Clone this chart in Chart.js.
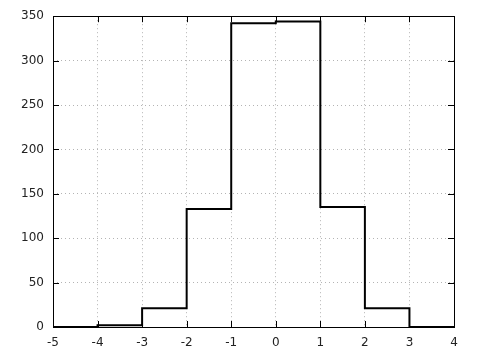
<!DOCTYPE html>
<html>
<head>
  <meta charset="UTF-8" />
  <title>Histogram</title>
  <style>
    html, body { margin: 0; padding: 0; background: #fff; }
    #wrap { width: 480px; height: 360px; }
  </style>
</head>
<body>
<div id="wrap"><canvas id="graph"></canvas></div>

<script src="https://cdn.jsdelivr.net/npm/chart.js"></script>
<script>
// bin edges and counts
const binEdges = [-5, -4, -3, -2, -1, 0, 1, 2, 3, 4];
const counts = [0, 2, 21, 133, 342, 344, 135, 21, 0];
const yTicks = [0, 50, 100, 150, 200, 250, 300, 350];

// step line points: one per left edge, plus the closing right edge
const points = counts.map((c, i) => ({ x: binEdges[i], y: c }));
points.push({ x: binEdges[binEdges.length - 1], y: counts[counts.length - 1] });

// frame + inward tick marks like the original plot
const frameTicks = {
  id: 'frameTicks',
  afterDraw(chart) {
    const { ctx, chartArea: a, scales: { x, y } } = chart;
    const len = 6;
    ctx.save();
    ctx.strokeStyle = '#000';
    ctx.lineWidth = 1;
    ctx.beginPath();
    x.ticks.forEach(t => {
      const px = Math.round(x.getPixelForValue(t.value)) + 0.5;
      ctx.moveTo(px, a.bottom); ctx.lineTo(px, a.bottom - len);
      ctx.moveTo(px, a.top); ctx.lineTo(px, a.top + len);
    });
    y.ticks.forEach(t => {
      const py = Math.round(y.getPixelForValue(t.value)) + 0.5;
      ctx.moveTo(a.left, py); ctx.lineTo(a.left + len, py);
      ctx.moveTo(a.right, py); ctx.lineTo(a.right - len, py);
    });
    ctx.stroke();
    ctx.strokeRect(Math.round(a.left) + 0.5, Math.round(a.top) + 0.5,
                   Math.round(a.right - a.left), Math.round(a.bottom - a.top));
    ctx.restore();
  }
};

const ctx = document.getElementById('graph').getContext('2d');
new Chart(ctx, {
  type: 'line',
  data: {
    datasets: [{
      data: points,
      stepped: 'before',
      borderColor: '#000',
      borderWidth: 2,
      pointRadius: 0,
      fill: false
    }]
  },
  options: {
    responsive: true,
    maintainAspectRatio: false,
    animation: false,
    layout: { padding: { left: 0, right: 26, top: 16, bottom: 0 } },
    plugins: { legend: { display: false }, tooltip: { enabled: false } },
    scales: {
      x: {
        type: 'linear',
        min: -5, max: 4,
        border: { display: false, dash: [1, 3] },
        grid: { color: '#b4b4b4', drawTicks: false },
        ticks: { stepSize: 1, color: '#222', padding: 9,
                 font: { family: 'DejaVu Sans', size: 12 } },
        afterFit: s => { s.height = 33; }
      },
      y: {
        min: 0, max: 350,
        border: { display: false, dash: [1, 3] },
        grid: { color: '#b4b4b4', drawTicks: false },
        ticks: { stepSize: 50, color: '#222', padding: 9,
                 font: { family: 'DejaVu Sans', size: 12 } },
        afterBuildTicks: s => { s.ticks = yTicks.map(v => ({ value: v })); },
        afterFit: s => { s.width = 53; }
      }
    }
  },
  plugins: [frameTicks]
});
</script>
</body>
</html>
